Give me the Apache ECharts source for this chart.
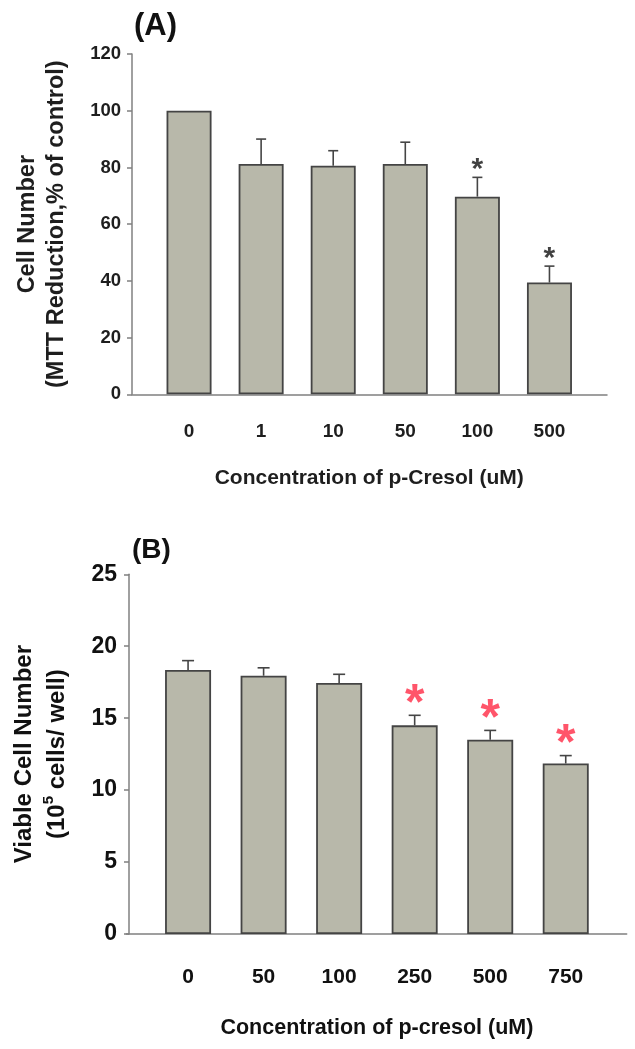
<!DOCTYPE html>
<html>
<head>
<meta charset="utf-8">
<script src="https://cdn.jsdelivr.net/npm/echarts@6/dist/echarts.min.js"></script>
<style>html,body{margin:0;padding:0;background:#fff}#c{width:635px;height:1049px}</style>
</head>
<body>
<div id="c"></div>
<script>
// Panel A data
const catsA = ['0', '1', '10', '50', '100', '500'];
const meanA = [100, 81.2, 80.6, 81.2, 69.7, 39.4];
const sdA = [0, 8.8, 5.3, 7.7, 6.8, 5.8];
const sigA = [false, false, false, false, true, true];
// Panel B data
const catsB = ['0', '50', '100', '250', '500', '750'];
const meanB = [18.35, 17.95, 17.45, 14.5, 13.5, 11.85];
const sdB = [0.65, 0.55, 0.6, 0.7, 0.65, 0.55];
const sigB = [false, false, false, true, true, true];

const FONT = '"Liberation Sans", Arial, sans-serif';
const BAR_FILL = '#b8b8aa';
const BAR_EDGE = '#444444';
const AXIS_COL = '#808080';

function errRender(cap) {
  return function (params, api) {
    const x = api.value(0), lo = api.value(1), hi = api.value(2);
    const p0 = api.coord([x, lo]);
    const p1 = api.coord([x, hi]);
    const st = { stroke: '#454545', lineWidth: 1.6 };
    return {
      type: 'group',
      children: [
        { type: 'line', shape: { x1: p0[0], y1: p0[1], x2: p1[0], y2: p1[1] }, style: st },
        { type: 'line', shape: { x1: p1[0] - cap, y1: p1[1], x2: p1[0] + cap, y2: p1[1] }, style: st }
      ]
    };
  };
}
function errData(means, sds) {
  const out = [];
  means.forEach((m, i) => { if (sds[i] > 0) out.push([i, m, m + sds[i]]); });
  return out;
}
function sigData(means, sds, sig) {
  return means.map((m, i) => sig[i] ? [i, m + sds[i]] : [i, null]);
}

const chart = echarts.init(document.getElementById('c'), null, { renderer: 'canvas' });

const gA = { top: 54, height: 340.3 };
const gB = { top: 574.3, height: 359.7 };

const option = {
  animation: false,
  backgroundColor: '#fff',
  textStyle: { fontFamily: FONT },
  title: [
    { text: '(A)', left: 129, top: 6, textStyle: { fontFamily: FONT, fontSize: 31, fontWeight: 'bold', color: '#111' } },
    { text: '(B)', left: 127, top: 531, textStyle: { fontFamily: FONT, fontSize: 28, fontWeight: 'bold', color: '#111' } }
  ],
  grid: [
    { left: 132, right: 28, top: gA.top, height: gA.height },      // A frame
    { left: 153, right: 49.5, top: gA.top, height: gA.height },    // A bars
    { left: 124, right: 8.3, top: gB.top, height: gB.height },     // B frame
    { left: 150.3, right: 31.5, top: gB.top, height: gB.height }   // B bars
  ],
  xAxis: [
    { gridIndex: 0, type: 'value', min: 0, max: 1, axisLine: { show: true, lineStyle: { color: AXIS_COL, width: 1.5 } },
      axisTick: { show: false }, axisLabel: { show: false }, splitLine: { show: false } },
    { gridIndex: 1, type: 'category', data: catsA, axisLine: { show: false }, axisTick: { show: false },
      axisLabel: { fontFamily: FONT, fontSize: 19, fontWeight: 'bold', color: '#1e1e1e', margin: 28 },
      name: 'Concentration of p-Cresol (uM)', nameLocation: 'middle', nameGap: 73,
      nameTextStyle: { fontFamily: FONT, fontSize: 21, fontWeight: 'bold', color: '#1e1e1e' } },
    { gridIndex: 2, type: 'value', min: 0, max: 1, axisLine: { show: true, lineStyle: { color: AXIS_COL, width: 1.5 } },
      axisTick: { show: false }, axisLabel: { show: false }, splitLine: { show: false } },
    { gridIndex: 3, type: 'category', data: catsB, axisLine: { show: false }, axisTick: { show: false },
      axisLabel: { fontFamily: FONT, fontSize: 21, fontWeight: 'bold', color: '#111', margin: 33 },
      name: 'Concentration of p-cresol (uM)', nameLocation: 'middle', nameGap: 83,
      nameTextStyle: { fontFamily: FONT, fontSize: 21.5, fontWeight: 'bold', color: '#111' } }
  ],
  yAxis: [
    { gridIndex: 0, type: 'value', min: 0, max: 120, interval: 20,
      axisLine: { show: true, lineStyle: { color: AXIS_COL, width: 1.5 } },
      axisTick: { show: true, length: 5, lineStyle: { color: AXIS_COL, width: 1.5 } },
      axisLabel: { fontFamily: FONT, fontSize: 18.5, fontWeight: 'bold', color: '#1e1e1e', margin: 11 },
      splitLine: { show: false },
      name: 'Cell Number\n(MTT Reduction,% of control)', nameLocation: 'middle', nameGap: 61, nameRotate: 90,
      nameTextStyle: { fontFamily: FONT, fontSize: 23.5, fontWeight: 'bold', color: '#1e1e1e', lineHeight: 29 } },
    { gridIndex: 1, type: 'value', min: 0, max: 120, interval: 20, show: false, splitLine: { show: false } },
    { gridIndex: 2, type: 'value', min: 0, max: 25, interval: 5, offset: -2.7,
      axisLine: { show: true, lineStyle: { color: AXIS_COL, width: 1.5 } },
      axisTick: { show: true, length: 5, lineStyle: { color: AXIS_COL, width: 1.5 } },
      axisLabel: { fontFamily: FONT, fontSize: 23, fontWeight: 'bold', color: '#111', margin: 12 },
      splitLine: { show: false },
      name: 'Viable Cell Number\n(10{sup|5} cells/ well)', nameLocation: 'middle', nameGap: 55, nameRotate: 90,
      nameTextStyle: { fontFamily: FONT, fontSize: 24, fontWeight: 'bold', color: '#111', lineHeight: 33,
        rich: { sup: { fontFamily: FONT, fontSize: 15, fontWeight: 'bold', color: '#111', verticalAlign: 'top', lineHeight: 33, padding: [0, 0, 10, 0] } } } },
    { gridIndex: 3, type: 'value', min: 0, max: 25, interval: 5, show: false, splitLine: { show: false } }
  ],
  series: [
    { type: 'bar', xAxisIndex: 1, yAxisIndex: 1, data: meanA, barWidth: 45,
      itemStyle: { color: BAR_FILL, borderColor: BAR_EDGE, borderWidth: 1.8 } },
    { type: 'custom', xAxisIndex: 1, yAxisIndex: 1, renderItem: errRender(5), data: errData(meanA, sdA), z: 3 },
    { type: 'scatter', xAxisIndex: 1, yAxisIndex: 1, data: sigData(meanA, sdA, sigA), symbolSize: 1,
      itemStyle: { color: 'rgba(0,0,0,0)' }, z: 4,
      label: { show: true, formatter: '*', position: 'top', distance: 0, offset: [0, 8],
        fontFamily: FONT, fontSize: 30, fontWeight: 'bold', color: '#111' } },

    { type: 'bar', xAxisIndex: 3, yAxisIndex: 3, data: meanB, barWidth: 46,
      itemStyle: { color: BAR_FILL, borderColor: BAR_EDGE, borderWidth: 1.8 } },
    { type: 'custom', xAxisIndex: 3, yAxisIndex: 3, renderItem: errRender(6), data: errData(meanB, sdB), z: 3 },
    { type: 'scatter', xAxisIndex: 3, yAxisIndex: 3, data: sigData(meanB, sdB, sigB), symbolSize: 1,
      itemStyle: { color: 'rgba(0,0,0,0)' }, z: 4,
      label: { show: true, formatter: '*', position: 'top', distance: 0, offset: [0, 15],
        fontFamily: FONT, fontSize: 50, fontWeight: 'bold', color: '#ff2b45' } }
  ]
};
chart.setOption(option);
</script>
</body>
</html>
